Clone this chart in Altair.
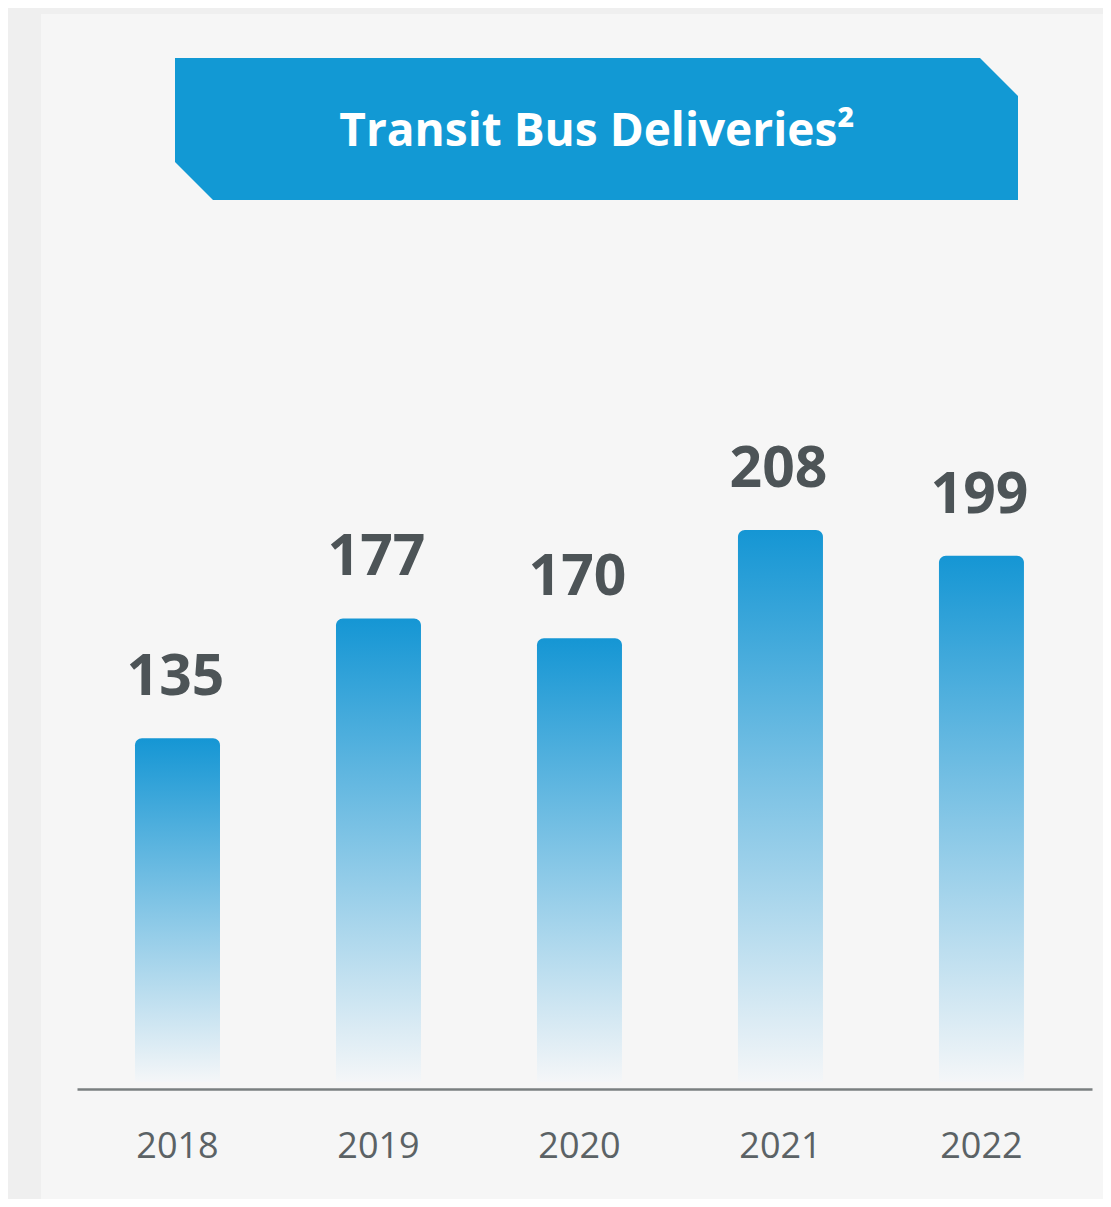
import altair as alt
import pandas as pd

years = ["2018", "2019", "2020", "2021", "2022"]
deliveries = [135, 177, 170, 208, 199]
title_text = "Transit Bus Deliveries²"

Y_MIN, Y_MAX = 12, 391

df = pd.DataFrame({"year": years, "value": deliveries})

x_enc = alt.X("year:N", sort=years,
              scale=alt.Scale(paddingInner=0, paddingOuter=0.025, align=0),
              axis=alt.Axis(title=None, ticks=False, tickSize=0, labelAngle=0,
                            labelFont="Open Sans", labelFontSize=36,
                            labelColor="#5b6265", labelBaseline="alphabetic",
                            labelPadding=68, domainColor="#7a7f80",
                            domainWidth=2.5, grid=False, zindex=2))
y_scale = alt.Scale(domain=[Y_MIN, Y_MAX], zero=False, nice=False)

panel = alt.Chart(df).mark_rect(color="#f6f6f6").encode(
    x=alt.value(-36), x2=alt.value(1040), y=alt.value(6), y2=alt.value(1400)
)

gradient = alt.Gradient(
    gradient="linear", x1=0, y1=0, x2=0, y2=1,
    stops=[alt.GradientStop(color="#1596d4", offset=0),
           alt.GradientStop(color="#f4f6f8", offset=1)],
)

bars = alt.Chart(df).mark_bar(
    size=85, color=gradient, cornerRadiusTopLeft=7, cornerRadiusTopRight=7,
    y2Offset=-7
).encode(
    x=x_enc,
    y=alt.Y("value:Q", scale=y_scale, axis=None, stack=None),
    y2=alt.datum(Y_MIN),
)

labels = alt.Chart(df).mark_text(
    font="Open Sans", fontWeight="bold", fontSize=57, color="#4d5457",
    baseline="alphabetic", dy=-43, dx=-2
).encode(
    x=x_enc,
    y=alt.Y("value:Q", scale=y_scale, axis=None),
    text="value:Q",
)

banner_path = ("M -1 -0.1684 L 0.9098 -0.1684 L 1 -0.0782 L 1 0.1684 "
               "L -0.9098 0.1684 L -1 0.0782 Z")
banner = alt.Chart(pd.DataFrame({"t": [title_text]})).mark_point(
    shape=banner_path, filled=True, color="#1299d4", opacity=1, size=843 * 843,
    strokeWidth=0
).encode(x=alt.value(519.5), y=alt.value(121))

title = alt.Chart(pd.DataFrame({"t": [title_text]})).mark_text(
    font="Open Sans", fontWeight="bold", fontSize=46, color="white",
    baseline="alphabetic", align="center"
).encode(x=alt.value(520), y=alt.value(138), text="t:N")

chart = alt.layer(panel, bars, labels, banner, title).properties(
    width=1015, height=1081,
    autosize=alt.AutoSizeParams(type="none"),
    padding={"left": 69, "top": 0, "right": 11, "bottom": 110},
    background="#efefef",
).configure_view(stroke=None, fill=None)

chart.save("out.html", embed_options={"renderer": "svg", "actions": False})
